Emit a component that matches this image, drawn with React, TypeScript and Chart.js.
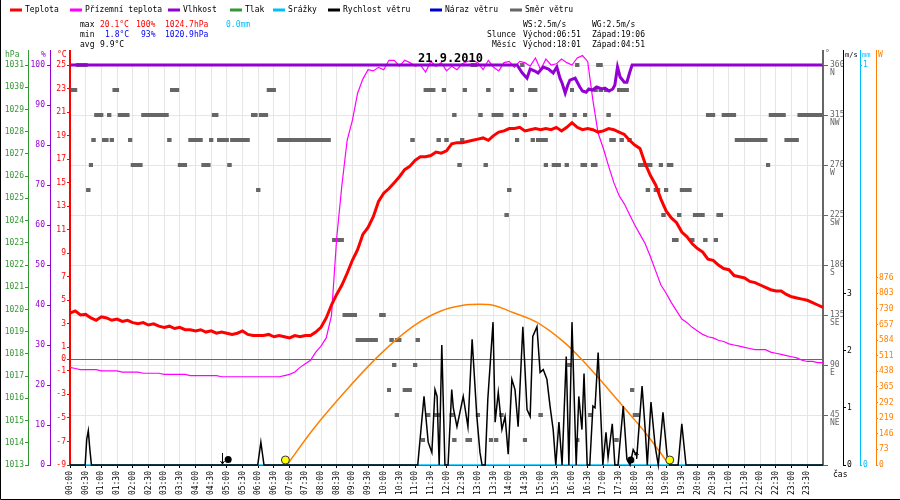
import React, { useEffect, useRef } from 'react';
import { Chart, registerables } from 'chart.js';

Chart.register(...registerables);

// ------------------------------------------------------------------ data
const dateTitle = '21.9.2010';

const timeLabels = [
  '00:00', '00:30', '01:00', '01:30', '02:00', '02:30', '03:00', '03:30',
  '04:00', '04:30', '05:00', '05:30', '06:00', '06:30', '07:00', '07:30',
  '08:00', '08:30', '09:00', '09:30', '10:00', '10:30', '11:00', '11:30',
  '12:00', '12:30', '13:00', '13:30', '14:00', '14:30', '15:00', '15:30',
  '16:00', '16:30', '17:00', '17:30', '18:00', '18:30', '19:00', '19:30',
  '20:00', '20:30', '21:00', '21:30', '22:00', '22:30', '23:00', '23:30',
];
const labelStepMinutes = 30;
const sampleStepMinutes = 10; // temperature series: one value every 10 minutes from 00:00

// Teplota (°C)
const temperature = [
  3.9, 4.1, 3.75, 3.8, 3.5, 3.3,
  3.6, 3.5, 3.3, 3.4, 3.2, 3.3,
  3.1, 3.0, 3.1, 2.9, 3.0, 2.8,
  2.7, 2.8, 2.6, 2.7, 2.5, 2.5,
  2.4, 2.5, 2.3, 2.4, 2.2, 2.3,
  2.2, 2.1, 2.2, 2.4, 2.1, 2.0,
  2.0, 2.0, 2.1, 1.9, 2.0, 1.9,
  1.8, 2.0, 1.9, 2.0, 2.0, 2.3,
  2.7, 3.5, 4.6, 5.5, 6.3, 7.3,
  8.4, 9.3, 10.6, 11.2, 12.1, 13.4,
  14.1, 14.5, 15.0, 15.5, 16.1, 16.4,
  16.9, 17.2, 17.2, 17.3, 17.6, 17.5,
  17.7, 18.3, 18.4, 18.4, 18.5, 18.6,
  18.7, 18.8, 18.6, 19.0, 19.3, 19.4,
  19.6, 19.6, 19.7, 19.4, 19.5, 19.6,
  19.5, 19.6, 19.5, 19.7, 19.4, 19.7,
  20.1, 19.7, 19.5, 19.6, 19.5, 19.3,
  19.4, 19.6, 19.5, 19.3, 19.1, 18.6,
  18.2, 17.9, 16.6, 15.6, 14.8, 13.6,
  12.6, 12.0, 11.6, 10.8, 10.4, 9.8,
  9.4, 9.1, 8.5, 8.4, 8.0, 7.7,
  7.6, 7.1, 7.0, 6.9, 6.6, 6.5,
  6.3, 6.1, 5.9, 5.8, 5.8, 5.5,
  5.3, 5.2, 5.1, 5.0, 4.8, 4.6,
  4.4,
];

// Přízemní teplota (°C)
const groundTemperature = [
  -0.7, -0.8, -0.9, -0.9, -0.9, -0.9,
  -1.0, -1.0, -1.0, -1.0, -1.1, -1.1,
  -1.1, -1.1, -1.2, -1.2, -1.2, -1.2,
  -1.3, -1.3, -1.3, -1.3, -1.3, -1.4,
  -1.4, -1.4, -1.4, -1.4, -1.4, -1.5,
  -1.5, -1.5, -1.5, -1.5, -1.5, -1.5,
  -1.5, -1.5, -1.5, -1.5, -1.5, -1.4,
  -1.3, -1.1, -0.7, -0.4, -0.1, 0.6,
  1.1, 1.8, 3.7, 10.3, 14.8, 18.6,
  20.3, 22.6, 23.8, 24.6, 24.5, 24.8,
  24.6, 25.4, 25.4, 24.9, 25.4, 25.2,
  24.9, 25.0, 24.4, 25.3, 24.9, 25.2,
  24.5, 24.9, 24.6, 25.1, 25.3, 25.4,
  25.2, 24.6, 25.4, 24.8, 24.5, 25.2,
  25.3, 24.8, 25.3, 25.2, 24.9, 25.6,
  24.6, 25.5, 25.0, 25.1, 25.5, 25.2,
  25.0, 25.6, 25.8, 25.3, 22.0, 19.2,
  17.9, 16.4, 15.0, 13.9, 13.2, 12.3,
  11.4, 10.6, 9.8, 8.7, 7.5, 6.3,
  5.6, 4.8, 4.1, 3.4, 3.1, 2.7,
  2.4, 2.1, 1.9, 1.8, 1.6, 1.5,
  1.3, 1.2, 1.1, 1.0, 0.9, 0.8,
  0.8, 0.8, 0.6, 0.5, 0.4, 0.3,
  0.2, 0.1, -0.1, -0.2, -0.2, -0.3,
  -0.3,
];

// Vlhkost (%) — minutes since midnight / value
const humidityTimes = [0, 855, 865, 874, 880, 889, 895, 905, 915, 924, 931, 937, 941, 947, 952, 956, 966, 975, 980, 987, 992, 999, 1007, 1017, 1023, 1031, 1038, 1042, 1047, 1052, 1060, 1065, 1070, 1075, 1440];
const humidityValues = [100, 100, 98, 96.7, 99, 98.5, 98, 99.5, 99, 98, 99.5, 96.7, 95.5, 93, 95, 96.2, 96.7, 94.5, 93.5, 93.2, 94, 93.7, 94.5, 94, 94.2, 93.5, 94, 95, 99.5, 97, 95.7, 95.7, 98, 100, 100];

// Rychlost větru (m/s)
const windTimes = [0, 29, 32, 35, 38, 41, 359, 365, 371, 665, 677, 685, 692, 698, 702, 706, 711, 717, 723, 730, 733, 740, 752, 761, 769, 778, 784, 788, 794, 799, 809, 813, 819, 826, 832, 838, 845, 851, 857, 866, 874, 880, 885, 893, 899, 905, 912, 918, 924, 929, 935, 941, 949, 954, 960, 968, 973, 979, 983, 989, 994, 1000, 1004, 1010, 1016, 1019, 1025, 1029, 1037, 1042, 1048, 1058, 1065, 1071, 1077, 1084, 1094, 1100, 1104, 1111, 1119, 1125, 1134, 1142, 1147, 1163, 1170, 1178, 1440];
const windSpeed = [0, 0, 0.45, 0.6, 0.27, 0, 0, 0.4, 0, 0, 1.2, 0.4, 0.22, 1.32, 1.2, 0, 2.1, 0, 0, 1.32, 1.0, 0.67, 1.2, 0.67, 2.2, 0.85, 0.22, 0, 0, 1.15, 2.5, 0.75, 1.27, 0.62, 0.85, 0.19, 1.5, 1.32, 0.67, 2.42, 0.97, 0.85, 2.25, 2.42, 1.62, 1.67, 1.5, 1.03, 0.62, 0, 0.75, 0, 1.9, 0, 2.5, 0, 1.2, 0.62, 1.6, 0, 0, 1.03, 1.0, 1.97, 0.67, 0, 0.57, 0.13, 0.72, 0, 0, 1.03, 0.1, 0, 0.27, 0.15, 1.38, 0.62, 0, 1.1, 0.33, 0, 0.92, 0.15, 0, 0, 0.72, 0, 0];

// Srážky (mm)
const precipitationTimes = [0, 1440];
const precipitation = [0, 0];

// Sluneční záření (W/m²)
const solarTimes = [415, 465, 530, 593, 656, 708, 752, 784, 809, 847, 893, 943, 975, 1008, 1038, 1071, 1103, 1134, 1146];
const solarRadiation = [0, 167, 354, 517, 648, 719, 747, 751, 747, 713, 667, 578, 503, 415, 330, 236, 143, 41, 0];

// Směr větru: [from minute, to minute, direction °] — constant direction runs of 5-min samples
const windDirectionRuns: [number, number, number][] = [
  [15, 30, 360], [770, 775, 360], [865, 865, 360], [970, 970, 360], [1010, 1015, 360],
  [5, 10, 337.5], [85, 90, 337.5], [195, 205, 337.5], [380, 390, 337.5], [680, 695, 337.5], [715, 715, 337.5],
  [755, 755, 337.5], [800, 800, 337.5], [845, 845, 337.5], [880, 890, 337.5], [960, 960, 337.5], [1005, 1005, 337.5],
  [1015, 1015, 337.5], [1025, 1025, 337.5], [1050, 1065, 337.5],
  [50, 60, 315], [75, 75, 315], [95, 110, 315], [140, 185, 315], [275, 280, 315], [350, 355, 315], [365, 375, 315],
  [735, 735, 315], [785, 785, 315], [810, 825, 315], [850, 855, 315], [870, 870, 315], [920, 920, 315], [940, 945, 315],
  [965, 965, 315], [985, 985, 315], [1030, 1030, 315], [1220, 1230, 315], [1250, 1270, 315], [1340, 1365, 315], [1395, 1435, 315],
  [45, 45, 292.5], [65, 70, 292.5], [80, 80, 292.5], [115, 115, 292.5], [190, 190, 292.5], [230, 250, 292.5], [270, 270, 292.5],
  [285, 300, 292.5], [310, 340, 292.5], [400, 495, 292.5], [655, 655, 292.5], [705, 705, 292.5], [720, 720, 292.5], [750, 750, 292.5],
  [855, 855, 292.5], [885, 885, 292.5], [895, 910, 292.5], [1035, 1040, 292.5], [1055, 1055, 292.5], [1070, 1070, 292.5],
  [1275, 1330, 292.5], [1370, 1390, 292.5],
  [40, 40, 270], [120, 135, 270], [210, 220, 270], [255, 265, 270], [305, 305, 270], [745, 745, 270], [795, 795, 270],
  [910, 910, 270], [925, 935, 270], [950, 950, 270], [980, 985, 270], [1000, 1005, 270], [1090, 1110, 270], [1130, 1130, 270],
  [1145, 1150, 270], [1335, 1335, 270],
  [35, 35, 247.5], [360, 360, 247.5], [840, 840, 247.5], [1105, 1105, 247.5], [1120, 1125, 247.5], [1140, 1140, 247.5], [1170, 1185, 247.5],
  [835, 835, 225], [1135, 1135, 225], [1165, 1165, 225], [1195, 1210, 225], [1240, 1245, 225],
  [505, 520, 202.5], [1155, 1160, 202.5], [1190, 1190, 202.5], [1215, 1215, 202.5], [1235, 1235, 202.5],
  [525, 545, 135], [595, 600, 135],
  [550, 585, 112.5], [615, 615, 112.5], [625, 630, 112.5], [665, 665, 112.5],
  [620, 620, 90], [660, 660, 90], [955, 955, 90],
  [610, 610, 67.5], [640, 650, 67.5], [1075, 1075, 67.5],
  [625, 625, 45], [685, 685, 45], [700, 705, 45], [730, 730, 45], [780, 780, 45], [825, 825, 45], [900, 900, 45], [995, 995, 45], [1080, 1085, 45],
  [675, 675, 22.5], [735, 735, 22.5], [760, 765, 22.5], [805, 805, 22.5], [815, 815, 22.5], [870, 870, 22.5], [970, 970, 22.5], [1045, 1045, 22.5],
];

const sunEventMinutes = [411, 1146]; // východ 06:51, západ 19:06
const moonSetMinute = 291; // 04:51
const moonRiseMinute = 1081; // 18:01

// tick labels
const tempTicks = [25, 23, 21, 19, 17, 15, 13, 11, 9, 7, 5, 3, 1, 0, -1, -3, -5, -7, -9];
const humidityTicks = [0, 10, 20, 30, 40, 50, 60, 70, 80, 90, 100];
const pressureTicks = [1013, 1014, 1015, 1016, 1017, 1018, 1019, 1020, 1021, 1022, 1023, 1024, 1025, 1026, 1027, 1028, 1029, 1030, 1031];
const directionTicks = [0, 45, 90, 135, 180, 225, 270, 315, 360];
const directionNames = ['', 'NE', 'E', 'SE', 'S', 'SW', 'W', 'NW', 'N'];
const windTicks = [0, 1, 2, 3];
const rainTicks = [0, 1];
const solarTicks = [0, 73, 146, 219, 292, 365, 438, 511, 584, 657, 730, 803, 876];

const seriesNames = ['Teplota', 'Přízemní teplota', 'Vlhkost', 'Tlak', 'Srážky', 'Rychlost větru', 'Náraz větru', 'Směr větru'];
const statsMax = ['20.1°C', '100%', '1024.7hPa', '0.0mm'];
const statsMin = ['1.8°C', '93%', '1020.9hPa'];
const statsAvg = ['9.9°C'];
const windInfo = ['WS:2.5m/s', 'WG:2.5m/s'];
const sunInfo = ['Slunce', 'Východ:06:51', 'Západ:19:06'];
const moonInfo = ['Měsíc', 'Východ:18:01', 'Západ:04:51'];

// ------------------------------------------------------------------ styles
const FONT = "'DejaVu Sans Mono', 'Liberation Mono', monospace";
const FS = 8;
const RED = '#FF0000';
const MAGENTA = '#FF00FF';
const PURPLE = '#9400D3';
const GREEN = '#339933';
const SKY = '#00BFFF';
const BLACK = '#000000';
const NAVY = '#0000CC';
const GRAY = '#666666';
const ORANGE = '#FF8000';
const GRID = '#E6E6E6';
const seriesColors = [RED, MAGENTA, PURPLE, GREEN, SKY, BLACK, NAVY, GRAY];

const pairs = (xs: number[], ys: number[]) => xs.map((x, i) => ({ x, y: ys[i] }));
const stepped = (ys: number[], step: number) => ys.map((y, i) => ({ x: i * step, y }));
const tickList = (vals: number[]) => (s: any) => { s.ticks = vals.map((value) => ({ value })); };
const plain = (v: any) => String(v);
const tickFont = { family: FONT, size: FS, lineHeight: 1 };

const overlayPlugin = {
  id: 'overlay',
  afterDraw(chart: any) {
    const { ctx, chartArea, scales } = chart;
    const font = `${FS}px ${FONT}`;
    const txt = (s: string, x: number, y: number, color: string, f: string = font) => {
      ctx.font = f;
      ctx.fillStyle = color;
      ctx.fillText(s, x, y);
    };
    ctx.save();
    ctx.textAlign = 'left';
    ctx.textBaseline = 'alphabetic';

    // image frame (left + bottom)
    ctx.strokeStyle = BLACK;
    ctx.lineWidth = 1;
    ctx.beginPath();
    ctx.moveTo(0.5, 0);
    ctx.lineTo(0.5, 499.5);
    ctx.lineTo(900, 499.5);
    ctx.stroke();

    // axis lines continue above plot
    const stub = (id: string, color: string, w: number) => {
      const s = scales[id];
      const x0 = s.position === 'left' ? s.right : s.left;
      const x = w % 2 === 1 ? Math.round(x0) + 0.5 : Math.round(x0);
      ctx.strokeStyle = color;
      ctx.lineWidth = w;
      ctx.beginPath();
      ctx.moveTo(x, 50);
      ctx.lineTo(x, chartArea.top);
      ctx.stroke();
    };
    stub('yPress', GREEN, 1);
    stub('yHum', PURPLE, 1);
    stub('yTemp', RED, 2);
    stub('yDir', GRAY, 2);
    stub('yWind', BLACK, 1);
    stub('yRain', SKY, 1);
    stub('ySolar', ORANGE, 1);

    // legend
    const legendX = [10, 70, 168, 230, 273, 328, 430, 510];
    seriesNames.forEach((name, i) => {
      ctx.fillStyle = seriesColors[i];
      ctx.fillRect(legendX[i], 8.5, 12, 3);
      txt(name, legendX[i] + 15, 12, BLACK);
    });

    // statistics
    const r1 = 26.5, r2 = 36.5, r3 = 46.5;
    txt('max', 80, r1, BLACK);
    [100, 136, 165].forEach((x, i) => txt(statsMax[i], x, r1, RED));
    txt(statsMax[3], 226, r1, SKY);
    txt('min', 80, r2, BLACK);
    [105, 141, 165].forEach((x, i) => txt(statsMin[i], x, r2, '#0000FF'));
    txt('avg', 80, r3, BLACK);
    txt(statsAvg[0], 100, r3, BLACK);

    txt(windInfo[0], 523, r1, BLACK);
    txt(windInfo[1], 592, r1, BLACK);
    txt(sunInfo[0], 487, r2, BLACK);
    txt(sunInfo[1], 523, r2, BLACK);
    txt(sunInfo[2], 592, r2, BLACK);
    txt(moonInfo[0], 492, r3, BLACK);
    txt(moonInfo[1], 523, r3, BLACK);
    txt(moonInfo[2], 592, r3, BLACK);

    // axis titles
    const small = `7px ${FONT}`;
    txt('hPa', 5, 57, GREEN);
    txt('%', 41, 57, PURPLE);
    txt('°C', 57, 57, RED);
    txt('°', 825, 56, GRAY);
    txt('m/s', 845, 57, BLACK, small);
    txt('mm', 862, 57, SKY, small);
    txt('W', 878, 57, ORANGE);
    txt('čas', 833, 477, BLACK);

    // sun rise / set markers
    const xs = scales.x;
    const base = chartArea.bottom;
    sunEventMinutes.forEach((m) => {
      const x = xs.getPixelForValue(m);
      ctx.beginPath();
      ctx.arc(x + 0.5, base - 5, 4, 0, Math.PI * 2);
      ctx.fillStyle = '#FFFF00';
      ctx.fill();
      ctx.strokeStyle = '#333333';
      ctx.lineWidth = 1;
      ctx.stroke();
    });
    // moon set: arrow down + dot
    const xsSet = xs.getPixelForValue(moonSetMinute);
    ctx.strokeStyle = BLACK;
    ctx.lineWidth = 1;
    ctx.beginPath();
    ctx.moveTo(Math.round(xsSet) + 0.5, base - 12);
    ctx.lineTo(Math.round(xsSet) + 0.5, base - 1);
    ctx.moveTo(Math.round(xsSet) - 1.5, base - 4);
    ctx.lineTo(Math.round(xsSet) + 0.5, base - 1);
    ctx.lineTo(Math.round(xsSet) + 2.5, base - 4);
    ctx.stroke();
    ctx.fillStyle = BLACK;
    ctx.beginPath();
    ctx.arc(xsSet + 6, base - 5.5, 3.5, 0, Math.PI * 2);
    ctx.fill();
    // moon rise: dot + arrow up
    const xsRise = xs.getPixelForValue(moonRiseMinute);
    ctx.beginPath();
    ctx.arc(xsRise - 4.5, base - 5, 3.5, 0, Math.PI * 2);
    ctx.fill();
    ctx.beginPath();
    ctx.moveTo(Math.round(xsRise) + 1.5, base - 6);
    ctx.lineTo(Math.round(xsRise) + 1.5, base - 13);
    ctx.moveTo(Math.round(xsRise) - 0.5, base - 10);
    ctx.lineTo(Math.round(xsRise) + 1.5, base - 13);
    ctx.lineTo(Math.round(xsRise) + 3.5, base - 10);
    ctx.stroke();

    // date title
    txt(dateTitle, 418, 62, BLACK, `bold 12px ${FONT}`);
    ctx.restore();
  },
};

export default function App() {
  const ref = useRef<HTMLCanvasElement>(null);

  useEffect(() => {
    document.body.style.margin = '0';
    if (!ref.current) return;

    const directionPoints: { x: number; y: number | null }[] = [];
    windDirectionRuns.forEach(([a, b, d]) => {
      directionPoints.push({ x: a, y: d }, { x: b, y: d }, { x: b, y: null });
    });

    const chart = new Chart(ref.current, {
      type: 'line',
      data: {
        datasets: [
          {
            label: seriesNames[2], data: pairs(humidityTimes, humidityValues), yAxisID: 'yHum',
            borderColor: PURPLE, borderWidth: 3, pointRadius: 0, tension: 0, clip: false,
          },
          {
            label: seriesNames[0], data: stepped(temperature, sampleStepMinutes), yAxisID: 'yTemp',
            borderColor: RED, borderWidth: 3, pointRadius: 0, tension: 0, clip: false,
          },
          {
            label: seriesNames[1], data: stepped(groundTemperature, sampleStepMinutes), yAxisID: 'yTemp',
            borderColor: MAGENTA, borderWidth: 1.2, pointRadius: 0, tension: 0, clip: false,
          },
          { label: seriesNames[6], data: [], yAxisID: 'yWind', borderColor: NAVY, pointRadius: 0 },
          {
            label: seriesNames[5], data: pairs(windTimes, windSpeed), yAxisID: 'yWind',
            borderColor: BLACK, borderWidth: 1.5, pointRadius: 0, tension: 0, clip: false,
          },
          {
            label: seriesNames[4], data: pairs(precipitationTimes, precipitation), yAxisID: 'yRain',
            borderColor: SKY, borderWidth: 1.5, pointRadius: 0, tension: 0, clip: false,
          },
          { label: seriesNames[3], data: [], yAxisID: 'yPress', borderColor: GREEN, pointRadius: 0 },
          {
            label: 'Sluneční záření', data: pairs(solarTimes, solarRadiation), yAxisID: 'ySolar',
            borderColor: ORANGE, borderWidth: 1.5, pointRadius: 0, cubicInterpolationMode: 'monotone', clip: false,
          },
          {
            label: seriesNames[7], data: directionPoints as any, yAxisID: 'yDir',
            borderColor: GRAY, borderWidth: 4, borderCapStyle: 'butt', tension: 0, spanGaps: false,
            pointStyle: 'rect', pointRadius: 2.83, pointBackgroundColor: GRAY, pointBorderWidth: 0, clip: false,
          },
        ] as any,
      },
      options: {
        responsive: false,
        animation: false,
        devicePixelRatio: 1,
        events: [],
        layout: { padding: { top: 65, left: 0, right: 0, bottom: 0 } },
        plugins: { legend: { display: false }, tooltip: { enabled: false }, title: { display: false } },
        scales: {
          x: {
            type: 'linear', min: 0, max: 1440,
            afterBuildTicks: tickList(timeLabels.map((_, i) => i * labelStepMinutes)),
            afterFit: (s: any) => { s.height = 35; },
            ticks: {
              autoSkip: false, minRotation: 90, maxRotation: 90, padding: 3, color: BLACK, font: tickFont,
              callback: (_v: any, i: number) => timeLabels[i] ?? '',
            },
            grid: {
              color: (c: any) => (c.tick && c.tick.value === 0 ? 'rgba(0,0,0,0)' : GRID),
              tickColor: BLACK, tickLength: 3, lineWidth: 1,
            },
            border: { color: BLACK, width: 1 },
          },
          yPress: {
            type: 'linear', position: 'left', weight: 3, min: 1013, max: 1031,
            afterBuildTicks: tickList(pressureTicks),
            afterFit: (s: any) => { s.width = 28; },
            ticks: { color: GREEN, font: tickFont, padding: 1, callback: plain },
            grid: { drawOnChartArea: false, tickColor: GREEN, tickLength: 3 },
            border: { color: GREEN, width: 1 },
          },
          yHum: {
            type: 'linear', position: 'left', weight: 2, min: 0, max: 100,
            afterBuildTicks: tickList(humidityTicks),
            afterFit: (s: any) => { s.width = 22; },
            ticks: { color: PURPLE, font: tickFont, padding: 2, callback: plain },
            grid: { drawOnChartArea: false, tickColor: PURPLE, tickLength: 3 },
            border: { color: PURPLE, width: 1 },
          },
          yTemp: {
            type: 'linear', position: 'left', weight: 1, min: -9, max: 25,
            afterBuildTicks: tickList(tempTicks),
            afterFit: (s: any) => { s.width = 20; },
            ticks: { color: RED, font: tickFont, padding: 1, callback: plain },
            grid: {
              drawOnChartArea: true,
              color: (c: any) => (c.tick && c.tick.value === 0 ? GRAY : 'rgba(0,0,0,0)'),
              tickColor: RED, tickLength: 3,
            },
            border: { color: RED, width: 2 },
          },
          yDir: {
            type: 'linear', position: 'right', weight: 1, min: 0, max: 360,
            afterBuildTicks: tickList(directionTicks),
            afterFit: (s: any) => { s.width = 20; },
            ticks: {
              color: GRAY, font: tickFont, padding: 2,
              callback: (v: any) => (v === 0 ? '' : ['', String(v), directionNames[directionTicks.indexOf(v)]]),
            },
            grid: { drawOnChartArea: true, color: GRID, tickColor: GRAY, tickLength: 5 },
            border: { color: GRAY, width: 2 },
          },
          yWind: {
            type: 'linear', position: 'right', weight: 2, min: 0, max: 7,
            afterBuildTicks: tickList(windTicks),
            afterFit: (s: any) => { s.width = 17; },
            ticks: { color: BLACK, font: tickFont, padding: 1, callback: plain },
            grid: { drawOnChartArea: false, tickColor: BLACK, tickLength: 3 },
            border: { color: BLACK, width: 1 },
          },
          yRain: {
            type: 'linear', position: 'right', weight: 3, min: 0, max: 1,
            afterBuildTicks: tickList(rainTicks),
            afterFit: (s: any) => { s.width = 16; },
            ticks: { color: SKY, font: tickFont, padding: 1, callback: plain },
            grid: { drawOnChartArea: false, tickColor: SKY, tickLength: 2 },
            border: { color: SKY, width: 1 },
          },
          ySolar: {
            type: 'linear', position: 'right', weight: 4, min: 0, max: 1870,
            afterBuildTicks: tickList(solarTicks),
            afterFit: (s: any) => { s.width = 24; },
            ticks: { color: ORANGE, font: tickFont, padding: 1, callback: plain },
            grid: { drawOnChartArea: false, tickColor: ORANGE, tickLength: 2 },
            border: { color: ORANGE, width: 1 },
          },
        } as any,
      },
      plugins: [overlayPlugin],
    });

    return () => chart.destroy();
  }, []);

  return (
    <div style={{ width: 900, height: 500, background: '#ffffff' }}>
      <canvas ref={ref} width={900} height={500} style={{ display: 'block' }} />
    </div>
  );
}
